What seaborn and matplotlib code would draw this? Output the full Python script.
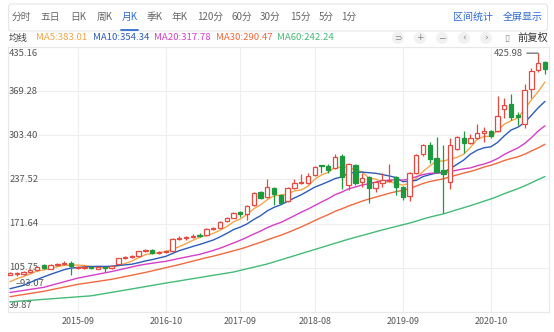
import numpy as np
import pandas as pd
import matplotlib
matplotlib.use("Agg")
import matplotlib.pyplot as plt
import seaborn as sns
from matplotlib.patches import FancyBboxPatch, Circle
from matplotlib.transforms import IdentityTransform
import matplotlib.lines as mlines

# ---------------- data (monthly K-line, 2014-11 .. 2021-06) ----------------
months = pd.period_range("2014-11", "2021-06", freq="M").strftime("%Y-%m").tolist()

opens = [95.5, 96, 96.5, 99.5, 102, 110, 104.5, 110, 111.5, 113.5,
         105, 106, 107.5, 104.5, 106.5, 105, 112, 120, 121.5, 123.5,
         130.5, 132.5, 127.5, 129, 130.5, 149, 150, 151.5, 155, 154.5,
         163.5, 165.5, 175.5, 180.5, 189, 186, 199.5, 218.5, 211, 224.5,
         214.5, 205, 225.5, 232.5, 233, 244, 258.5, 257.5, 254, 272.5,
         229.5, 259, 234, 241, 224.5, 233, 236, 241.5, 226, 213,
         247, 275.5, 289, 270, 251.5, 234, 282.5, 299, 292.5, 299,
         306.5, 310, 309.9, 342.7, 349.7, 333.7, 319.9, 372.5, 400.9, 413.2]
closes = [98, 97.5, 100, 102.5, 107, 105.5, 110.5, 111.5, 113, 108,
          106.5, 107, 105, 106.5, 105, 109, 120, 121.5, 123.5, 130.5,
          132, 127.5, 129, 130.5, 148.8, 150.5, 151, 153, 153, 163.5,
          165, 174.5, 180.5, 187.5, 186, 198.5, 217, 209.5, 226, 215.5,
          203, 225.5, 232, 234, 242, 256.5, 257, 251.5, 271.5, 241.5,
          260.5, 232, 239.5, 224.5, 234, 236.5, 237, 227, 211, 247,
          274, 289, 267.5, 249, 245.5, 289, 301.5, 291.5, 299, 306.5,
          310, 303, 332.7, 348.6, 331.2, 331, 371, 399.4, 410.9, 402]
highs = [99.5, 99.5, 101, 104, 108, 111, 111.5, 113.5, 115.5, 115.5,
         109, 110, 109, 108, 107.5, 110, 121, 123.5, 125, 131.5,
         134, 133.5, 131, 133, 150, 153, 153.5, 155.5, 158, 165,
         167, 176, 182, 189, 190.5, 200, 218.5, 220.5, 238, 227,
         216, 227, 238, 245.5, 247.5, 258, 259, 260.5, 275.6, 275.5,
         262, 261, 246.5, 243, 236, 246.5, 260.5, 243, 228, 249,
         276, 291, 294, 301, 289, 299, 303, 310.5, 305.5, 320,
         316.5, 312, 362.5, 358.6, 364.6, 338.7, 379.5, 403.4, 425.98, 414]
lows = [94.5, 93.07, 95, 98, 101, 104, 103.5, 109, 110.5, 95,
        103.5, 104.5, 104, 103.5, 100, 104, 111, 119, 120.5, 122.5,
        129.5, 126.5, 126.5, 128, 129.5, 147.5, 148, 150, 151.5, 153.5,
        162, 164.5, 174.5, 179.5, 182, 177, 198, 208, 209.5, 199.5,
        201, 203.5, 224, 231, 231.5, 242.5, 247.5, 247.5, 252.5, 222.9,
        221.5, 229.5, 226.5, 202, 219, 227, 233.5, 214.5, 207, 206,
        245, 272.5, 262, 247, 187.1, 223, 281, 276.5, 291, 297.5,
        294, 299, 308, 328.8, 326.3, 318.8, 313.9, 358.6, 398, 394.4]

# moving-average values before a full window exists
ma_early = {
    "MA5":  ([0, 1, 2, 3], [85, 89.5, 93, 96.6]),
    "MA10": ([0, 2, 4, 6, 8], [74.6, 79.6, 88.5, 96.1, 103]),
    "MA20": ([0, 5, 10, 15], [69, 76.7, 90.4, 100.2]),
    "MA30": ([0, 5, 10, 15, 20, 25], [62.7, 70.8, 81.1, 88.6, 98.9, 110.6]),
    "MA60": ([0, 12, 19, 23, 33, 38, 50, 55], [55, 64, 76, 83, 99.5, 111.5, 148.5, 162.3]),
}
ma_windows = {"MA5": 5, "MA10": 10, "MA20": 20, "MA30": 30, "MA60": 60}
ma_colors = {"MA5": "#f5a548", "MA10": "#2c5cbb", "MA20": "#d63ec9",
             "MA30": "#f2693f", "MA60": "#44bb76"}
ma_labels = {"MA5": "383.01", "MA10": "354.34", "MA20": "317.78",
             "MA30": "290.47", "MA60": "242.24"}

y_ticks = [39.87, 105.75, 171.64, 237.52, 303.40, 369.28, 435.16]
x_tick_labels = ["2015-09", "2016-10", "2017-09", "2018-08", "2019-09", "2020-10"]

toolbar_items = ["分时", "五日", "日K", "周K", "月K", "季K", "年K",
                 "120分", "60分", "30分", "15分", "5分", "1分"]
toolbar_links = ["区间统计", "全屏显示"]

# ---------------- style ----------------
sns.set_theme(style="white")
plt.rcParams['font.family'] = ['Noto Sans CJK SC', 'DejaVu Sans']

W, H = 554, 332
fig = plt.figure(figsize=(W / 100, H / 100), dpi=100)
fig.patch.set_facecolor("white")

def fx(px):
    return px / W

def fy(py):
    return 1 - py / H

ax = fig.add_axes([fx(8.3), fy(312), (549 - 8.3) / W, (312 - 47) / H])
ax.set_facecolor("white")

o = np.array(opens); c = np.array(closes); h = np.array(highs); l = np.array(lows)
x = np.arange(len(c))
up = c >= o
RED, GREEN = "#e5493f", "#1d9a3d"

# ---------------- moving averages ----------------
cs = pd.Series(closes)
frames = []
for name, win in ma_windows.items():
    ei, ev = ma_early[name]
    roll = cs.rolling(win).mean()
    idx = list(ei) + [i for i in range(len(cs)) if not np.isnan(roll[i])]
    val = list(ev) + [roll[i] for i in range(len(cs)) if not np.isnan(roll[i])]
    frames.append(pd.DataFrame({"idx": idx, "value": val, "line": name}))
ma_df = pd.concat(frames, ignore_index=True)
sns.lineplot(data=ma_df, x="idx", y="value", hue="line", palette=ma_colors,
             estimator=None, sort=False, legend=False, lw=1.0, ax=ax, zorder=4)
ax.set_xlabel("")
ax.set_ylabel("")

# ---------------- candles ----------------
col = np.where(up, RED, GREEN)
ax.vlines(x, l, h, colors=col, lw=0.9, zorder=5)
ax.bar(x[up], (c - o)[up], bottom=o[up], width=0.64, facecolor="white",
       edgecolor=RED, linewidth=0.9, zorder=6)
ax.bar(x[~up], (o - c)[~up], bottom=c[~up], width=0.64, facecolor=GREEN,
       edgecolor=GREEN, linewidth=0.9, zorder=6)

# ---------------- axes ----------------
ax.set_xlim(-0.25, 79.6)
ax.set_ylim(y_ticks[0], y_ticks[-1])
xt = [months.index(m) for m in x_tick_labels]
ax.set_xticks(xt)
ax.set_xticklabels(x_tick_labels, fontsize=6.4, color="#555555")
ax.set_yticks(y_ticks)
ax.tick_params(axis="both", length=0, pad=3.6)
ax.tick_params(axis="y", labelleft=False)
ax.grid(True, color="#eeeeee", lw=0.8, zorder=0)
for s in ax.spines.values():
    s.set_color("#e8e8e8")
    s.set_linewidth(0.8)

for i, v in enumerate(y_ticks):
    va = "center"
    dy = 0
    if i == 0:
        va, dy = "bottom", 1.5
    elif i == len(y_ticks) - 1:
        va, dy = "top", -1.5
    ax.annotate(f"{v:.2f}", xy=(0, v), xycoords=("axes fraction", "data"),
                xytext=(0.6, dy), textcoords="offset points", ha="left", va=va,
                fontsize=6.8, color="#555555", zorder=1)

# max / min markers
imax = int(np.argmax(h)); imin = int(np.argmin(l))
ax.annotate(f"{h[imax]:.2f}", xy=(imax, h[imax]), xytext=(-11, 0),
            textcoords="offset points", ha="right", va="center",
            fontsize=6.8, color="#555555", zorder=7,
            arrowprops=dict(arrowstyle="-", color="#555555", lw=0.8,
                            shrinkA=0.5, shrinkB=0))
ax.annotate(f"–{l[imin]:.2f}", xy=(imin, l[imin]), xytext=(-1.2, -5.5),
            textcoords="offset points", ha="left", va="center",
            fontsize=6.8, color="#555555", zorder=3)

# ---------------- toolbar ----------------
box = FancyBboxPatch((8.5, H - 31), 539, 27, boxstyle="round,pad=0,rounding_size=3",
                     transform=IdentityTransform(), facecolor="white",
                     edgecolor="#e6e6e6", lw=0.8)
fig.add_artist(box)
tb_x = [21, 50, 78.5, 104.5, 129.5, 154.5, 179.5, 210.5, 241.5, 270.5, 300.5, 326, 349]
BLUE = "#2e6bd6"
for t, px in zip(toolbar_items, tb_x):
    fig.text(fx(px), fy(17), t, ha="center", va="center", fontsize=7.0,
             color=BLUE if t == "月K" else "#666666")
fig.add_artist(mlines.Line2D([fx(121), fx(138)], [fy(29.5), fy(29.5)], color=BLUE, lw=1.3))
for t, px in zip(toolbar_links, [473, 522.5]):
    fig.text(fx(px), fy(17), t, ha="center", va="center", fontsize=7.2, color=BLUE)

# ---------------- MA legend row ----------------
fig.text(fx(9), fy(38), "均线", ha="left", va="center", fontsize=6.8, color="#444444")
for name, px in zip(ma_windows, [36, 93, 154, 216, 277]):
    fig.text(fx(px), fy(38), f"{name}:{ma_labels[name]}", ha="left", va="center",
             fontsize=6.9, color=ma_colors[name])

icons = ["⊃", "+", "−", "‹", "›", "▯"]
for g, px in zip(icons, [398, 420, 442, 464, 486, 507]):
    if g != "▯":
        fig.add_artist(Circle((px, H - 38), 6, transform=IdentityTransform(),
                              facecolor="#f1f1f1", edgecolor="none"))
    fig.text(fx(px), fy(38), g, ha="center", va="center", fontsize=6.5,
             color="#888888", family=["DejaVu Sans"])
fig.text(fx(533), fy(38), "前复权", ha="center", va="center", fontsize=7.4, color="#333333")

fig.savefig("out.png", dpi=100, facecolor="white")
